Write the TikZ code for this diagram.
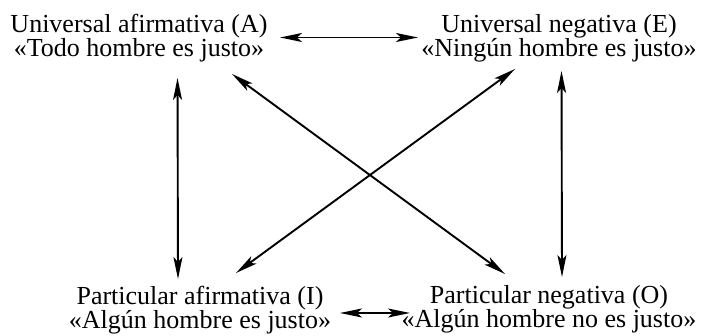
\documentclass[tikz,border=0pt]{standalone}
\usepackage{fontspec}
\setmainfont{Liberation Serif}
\usetikzlibrary{arrows.meta}
\tikzset{
  lbl/.style={align=center, inner sep=0pt, anchor=base, font=\fontsize{26}{22.5}\selectfont},
  tipx/.tip={Stealth[length=22pt,width=9pt,inset=5pt]},
  arr/.style={line width=1.9pt, tipx-tipx}
}
\begin{document}
\begin{tikzpicture}[x=1pt,y=1pt]
\useasboundingbox (0,0) rectangle (712,336);
% anchor=base is the baseline of the last line
\node[lbl] (A) at (139,279) {Universal afirmativa (A)\\«Todo hombre es justo»};
\node[lbl] (E) at (559,279) {Universal negativa (E)\\«Ningún hombre es justo»};
\node[lbl] (I) at (200,7) {Particular afirmativa (I)\\«Algún hombre es justo»};
\node[lbl] (O) at (549,8) {Particular negativa (O)\\«Algún hombre no es justo»};
% arrow end points
\coordinate (aE) at (280,298.5);
\coordinate (eA) at (418,298.5);
\coordinate (aI) at (177.5,258);
\coordinate (iA) at (178,57);
\coordinate (eO) at (561.5,265);
\coordinate (oE) at (562,59);
\coordinate (aO) at (232,262);
\coordinate (oA) at (505,62);
\coordinate (eI) at (515,267);
\coordinate (iE) at (236,63);
\coordinate (iO) at (340,23);
\coordinate (oI) at (410,23);
\draw[arr] (aE) -- (eA);
\draw[arr] (aI) -- (iA);
\draw[arr] (eO) -- (oE);
\draw[arr] (aO) -- (oA);
\draw[arr] (eI) -- (iE);
\draw[arr] (iO) -- (oI);
\end{tikzpicture}
\end{document}
